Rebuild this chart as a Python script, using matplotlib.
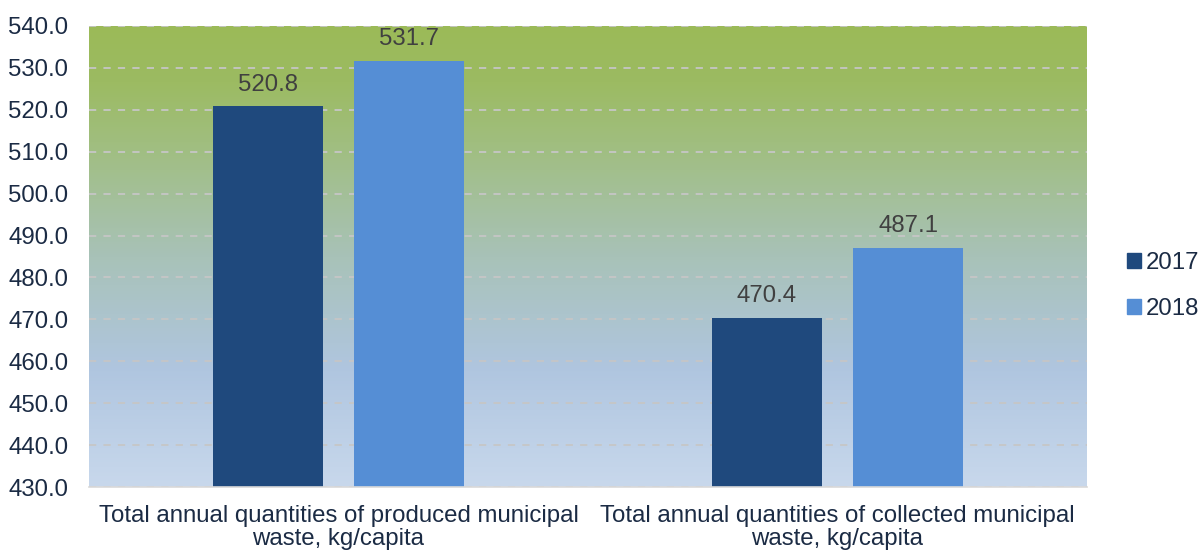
import matplotlib
matplotlib.use("Agg")
import matplotlib.pyplot as plt
import numpy as np
from matplotlib.colors import LinearSegmentedColormap
from matplotlib.patches import Patch

plt.rcParams['font.family'] = ['Liberation Sans', 'DejaVu Sans']

categories = ["Total annual quantities of produced municipal\nwaste, kg/capita",
              "Total annual quantities of collected municipal\nwaste, kg/capita"]
series_names = ["2017", "2018"]
values_2017 = [520.8, 470.4]
values_2018 = [531.7, 487.1]
yticks = np.arange(430, 541, 10)

c2017 = "#1F497D"
c2018 = "#558ED5"
tick_color = "#1B2B44"
fs = 17.3

fig = plt.figure(figsize=(12.01, 5.55), dpi=100)
ax = fig.add_axes([89/1201, 1 - 487/555, 998/1201, (487-26)/555])

# gradient background
cmap = LinearSegmentedColormap.from_list("bg", [
    (0.0, "#C8D8EC"), (0.25, "#B0C6E0"), (0.5, "#A8C2B8"),
    (0.75, "#A0BE7E"), (0.88, "#9CBB62"), (1.0, "#9BBA58")])
grad = np.linspace(0, 1, 256).reshape(-1, 1)
ax.imshow(grad, aspect='auto', cmap=cmap, origin='lower',
          extent=[0, 1, 0, 1], transform=ax.transAxes, zorder=0)

x = np.arange(len(categories))
w = 0.22
off = 0.142
b1 = ax.bar(x - off, values_2017, w, color=c2017, zorder=3, label=series_names[0])
b2 = ax.bar(x + off, values_2018, w, color=c2018, zorder=3, label=series_names[1])

for bars, vals in ((b1, values_2017), (b2, values_2018)):
    for rect, v in zip(bars, vals):
        ax.annotate(f"{v:.1f}", (rect.get_x() + rect.get_width()/2, v),
                    xytext=(0, 7.5), textcoords="offset points",
                    ha="center", va="bottom", fontsize=fs, color="#404040", zorder=4)

ax.set_xlim(-0.5, 1.5)
ax.set_ylim(430, 540)
ax.set_yticks(yticks)
ax.set_yticklabels([f"{t:.1f}" for t in yticks], fontsize=fs, color=tick_color)
ax.set_xticks(x)
ax.set_xticklabels(categories, fontsize=fs, color=tick_color, linespacing=1.08)
ax.tick_params(axis='both', length=0)
ax.tick_params(axis='y', pad=15)
ax.tick_params(axis='x', pad=13)

ax.grid(axis='y', color="#C6C6C6", linestyle=(0, (4, 4)), linewidth=1.3, zorder=1)
ax.set_axisbelow(True)
for s in ("top", "right", "left"):
    ax.spines[s].set_visible(False)
ax.spines["bottom"].set_color("#D9D9D9")
ax.spines["bottom"].set_linewidth(1.2)
ax.spines["bottom"].set_zorder(5)

handles = [Patch(color=c2017, label=series_names[0]), Patch(color=c2018, label=series_names[1])]
fig.legend(handles=handles, loc="center left", bbox_to_anchor=(1127/1201, 1 - 286/555),
           frameon=False, fontsize=fs, handlelength=0.6, handleheight=0.6,
           handletextpad=0.2, labelspacing=1.0, labelcolor=tick_color,
           borderpad=0, borderaxespad=0)

fig.savefig("out.png", dpi=100)
